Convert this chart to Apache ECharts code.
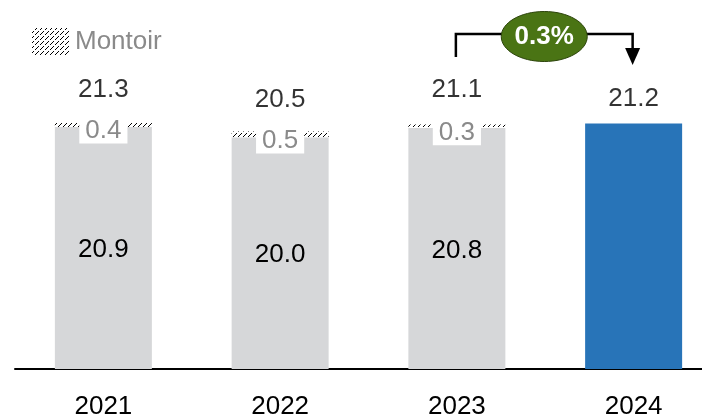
<!DOCTYPE html>
<html><head><meta charset="utf-8">
<script src="https://cdn.jsdelivr.net/npm/echarts@6/dist/echarts.min.js"></script>
<style>html,body{margin:0;padding:0;background:#fff;overflow:hidden;width:702px;height:420px}#c{width:730px;height:420px}</style>
</head><body><div id="c"></div>
<script>
const categories = ['2021', '2022', '2023', '2024'];
const baseValues = [20.9, 20.0, 20.8, null];
const montoirValues = [0.4, 0.5, 0.3, null];
const values2024 = [null, null, null, 21.2];
const totals = [21.3, 20.5, 21.1, 21.2];
const totalLabelGap = [19, 18, 21, 11];
const growthLabel = '0.3%';
const legendName = 'Montoir';

const FONT = '"Liberation Sans", Arial, sans-serif';
const FS = 26;

function hatchCanvas() {
  const c = document.createElement('canvas');
  c.width = 5; c.height = 5;
  const g = c.getContext('2d');
  g.fillStyle = '#ffffff';
  g.fillRect(0, 0, 5, 5);
  g.fillStyle = '#000000';
  for (let i = 0; i < 5; i++) if (i !== 2) g.fillRect(i, 4 - i, 1, 1);
  return c;
}
const hatch = { image: hatchCanvas(), repeat: 'repeat' };

const chart = echarts.init(document.getElementById('c'), null, { renderer: 'canvas' });

chart.setOption({
  animation: false,
  backgroundColor: '#ffffff',
  textStyle: { fontFamily: FONT },
  grid: { left: 15, width: 707, top: 21.5, bottom: 46, containLabel: false },
  legend: {
    data: [legendName],
    left: 27, top: 23,
    icon: 'rect',
    itemWidth: 38, itemHeight: 27, itemGap: 8,
    textStyle: { color: '#8a8a8a', fontSize: FS, fontFamily: FONT }
  },
  xAxis: {
    type: 'category',
    data: categories,
    axisLine: { show: true, lineStyle: { color: '#000', width: 2 } },
    axisTick: { show: false },
    axisLabel: { color: '#000', fontSize: FS, fontFamily: FONT, margin: 25 },
    splitLine: { show: false }
  },
  yAxis: {
    type: 'value', min: 0, max: 30, show: false,
    splitLine: { show: false }
  },
  series: [
    {
      name: 'Base', type: 'bar', stack: 's', barWidth: 97,
      data: baseValues,
      itemStyle: { color: '#d6d7d9' },
      label: { show: true, position: 'inside', offset: [0, 2], color: '#000', fontSize: FS, fontFamily: FONT,
        formatter: p => p.value.toFixed(1) }
    },
    {
      name: legendName, type: 'bar', stack: 's', barWidth: 97,
      data: montoirValues,
      itemStyle: { color: hatch },
      label: { show: true, position: 'inside', offset: [0, 6], color: '#8a8a8a', fontSize: FS, fontFamily: FONT,
        backgroundColor: '#ffffff', padding: [0, 6, 0, 6],
        formatter: p => p.value.toFixed(1) }
    },
    {
      name: '2024', type: 'bar', stack: 's', barWidth: 97,
      data: values2024,
      itemStyle: { color: '#2874b8' }
    },
    {
      name: 'Total', type: 'scatter', symbolSize: 1,
      itemStyle: { color: 'rgba(0,0,0,0)' },
      data: totals.map((v, i) => ({
        value: [i, v],
        label: { show: true, position: 'top', distance: totalLabelGap[i], color: '#000', fontSize: FS, fontFamily: FONT,
          formatter: () => v.toFixed(1) }
      })),
      silent: true
    }
  ]
});

// Growth annotation from 2023 to 2024
const x23 = chart.convertToPixel({ xAxisIndex: 0 }, 2) - 1;
const x24 = chart.convertToPixel({ xAxisIndex: 0 }, 3) - 1;
const yLine = 34;
const cx = (x23 + x24) / 2;
chart.setOption({
  graphic: [
    { type: 'polyline', shape: { points: [[x23, 57], [x23, yLine], [x24, yLine], [x24, 50]] },
      style: { stroke: '#000', lineWidth: 2.5, fill: null }, z: 10 },
    { type: 'polygon', shape: { points: [[x24 - 7.5, 48], [x24 + 7.5, 48], [x24, 65]] },
      style: { fill: '#000' }, z: 10 },
    { type: 'ellipse', shape: { cx: cx, cy: 36.5, rx: 43, ry: 25 },
      style: { fill: '#4a7414', stroke: '#2c440b', lineWidth: 1 }, z: 11 },
    { type: 'text', x: cx, y: 37, z: 12,
      style: { text: growthLabel, fill: '#ffffff', font: 'bold 26px ' + FONT, align: 'center', verticalAlign: 'middle' } }
  ]
});
</script>
</body></html>
